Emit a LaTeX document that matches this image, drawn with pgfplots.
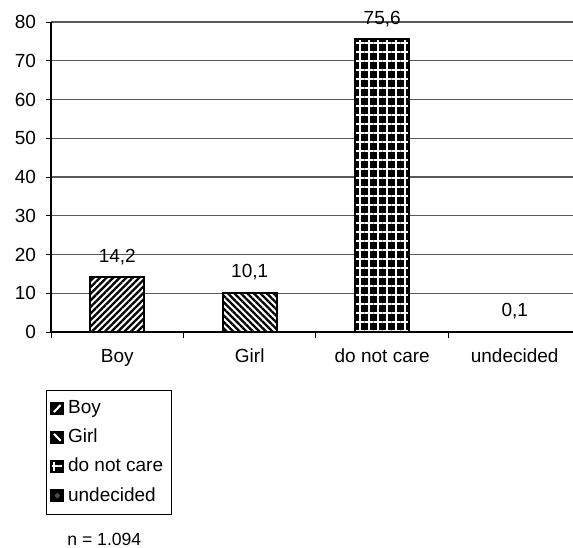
\documentclass[border=0pt]{standalone}
\usepackage{pgfplots}
\pgfplotsset{compat=1.18}
\usepackage{fontspec}
\setmainfont{Liberation Sans}
\usetikzlibrary{patterns.meta}

\begin{document}
\begin{tikzpicture}
% fixed page frame (origin at the top-left corner)
\useasboundingbox (0,0) rectangle (286.5pt,-273.5pt);
\begin{axis}[
  at={(25.5pt,-166pt)}, anchor=south west,
  scale only axis, width=261pt, height=155pt,
  xmin=-0.5, xmax=3.44, ymin=0, ymax=80,
  axis lines=left, axis line style={-, black, line width=0.7pt},
  xtick={0,1,2,3},
  xticklabels={Boy, Girl, do not care, undecided},
  major x tick style={draw=none},
  minor xtick={-0.5,0.5,1.5,2.5},
  minor x tick style={black, line width=0.5pt},
  minor tick length=3pt,
  ytick={0,10,...,80},
  major tick length=2.5pt,
  tick align=outside,
  y tick style={black, line width=0.5pt},
  ymajorgrids, grid style={gray!70!black, line width=0.6pt},
  tick label style={font=\fontsize{9.5}{11}\selectfont},
  /pgf/number format/assume math mode=true,
  xticklabel style={yshift=-2.5pt},
  yticklabel style={xshift=-1.5pt},
  ybar, bar width=27pt, bar shift=0pt,
  nodes near coords, point meta=explicit symbolic,
  every node near coord/.append style={font=\fontsize{9.5}{11}\selectfont, yshift=2.5pt},
  legend style={at={(-0.0096,-0.187)}, anchor=north west, draw=black, line width=0.5pt,
    font=\fontsize{9.5}{11}\selectfont, row sep=2.2pt, inner xsep=2pt, inner ysep=3pt,
    cells={anchor=west}},
  legend cell align=left,
  clip=false,
]
\addplot[draw=black, line width=0.8pt, fill=white,
  postaction={pattern={Lines[angle=45, distance=2.3pt, line width=1.15pt]}, pattern color=black},
  legend image code/.code={\fill[black] (0pt,-2.8pt) rectangle (6pt,2.8pt);
    \draw[white, line width=0.9pt] (1.4pt,-1.7pt) -- (4.6pt,1.7pt);}]
  coordinates {(0,14.2) [14,2]};
\addplot[draw=black, line width=0.8pt, fill=white,
  postaction={pattern={Lines[angle=-45, distance=2.3pt, line width=1.15pt]}, pattern color=black},
  legend image code/.code={\fill[black] (0pt,-2.8pt) rectangle (6pt,2.8pt);
    \draw[white, line width=0.9pt] (1.4pt,1.7pt) -- (4.6pt,-1.7pt);}]
  coordinates {(1,10.1) [10,1]};
\addplot[draw=black, line width=0.8pt, fill=black,
  postaction={pattern={Hatch[angle=0, distance=4.5pt, line width=0.55pt]}, pattern color=white},
  legend image code/.code={\fill[black] (0pt,-2.8pt) rectangle (6pt,2.8pt);
    \draw[white, line width=0.55pt] (1.5pt,-1.9pt) -- (1.5pt,1.9pt) (1.5pt,0pt) -- (4.8pt,0pt);}]
  coordinates {(2,75.6) [75,6]};
\addplot[draw=black, line width=0.8pt, fill=black,
  legend image code/.code={\fill[black] (0pt,-2.8pt) rectangle (6pt,2.8pt);
    \fill[gray!60!black] (3pt,0pt) circle (0.9pt);}]
  coordinates {(3,0.1) [0,1]};
\legend{Boy, Girl, do not care, undecided}
\end{axis}
\node[anchor=base west, font=\fontsize{8.8}{10}\selectfont, inner sep=0pt] at (33.5pt,-272.8pt) {n = 1.094};
\end{tikzpicture}
\end{document}
